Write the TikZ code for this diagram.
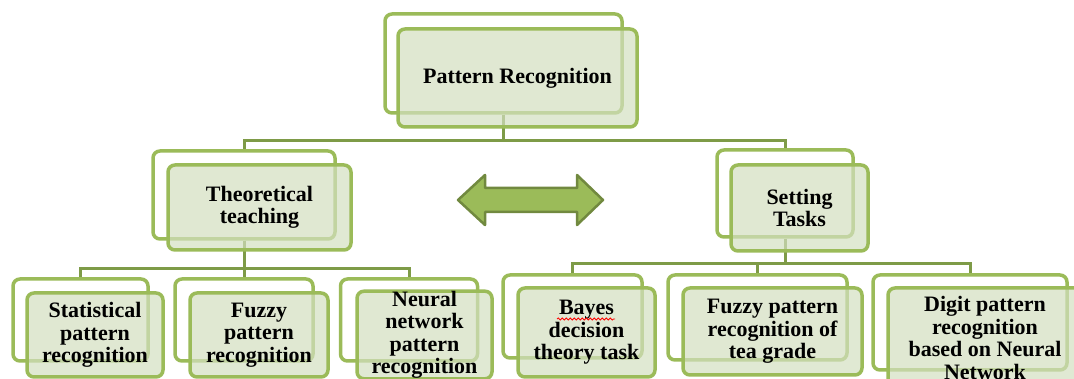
\documentclass[tikz,border=0pt]{standalone}
\usepackage{fontspec}
\setmainfont{Liberation Serif}
\usetikzlibrary{decorations.pathmorphing}
\definecolor{gborder}{HTML}{9BBB59}
\definecolor{gline}{HTML}{7E9B47}
\definecolor{gfill}{HTML}{D3DFC0}
\definecolor{garrow}{HTML}{9BBB59}
\definecolor{garrowdark}{HTML}{71893F}
\begin{document}
\begin{tikzpicture}[x=1pt,y=-1pt,
  backbox/.style={draw=gborder, line width=3.5pt, fill=white, rounded corners=7pt, inner sep=0pt},
  frontbox/.style={draw=gborder, line width=3.5pt, fill=gfill, fill opacity=0.7, text opacity=1, rounded corners=7pt, inner sep=0pt, align=center, font=\bfseries\fontsize{22}{22.5}\selectfont},
  conn/.style={draw=gline, line width=3pt},
  dblarrow/.style={fill=garrow, draw=garrowdark, line width=2.5pt, line join=round}]
\useasboundingbox (0,0) rectangle (1074,379);
\clip (0,0) rectangle (1074,379);
% back boxes
\node[backbox, minimum width=237pt, minimum height=99pt] (prB) at (503.5,63.5) {};
\node[backbox, minimum width=182pt, minimum height=88pt] (ttB) at (244,195) {};
\node[backbox, minimum width=136pt, minimum height=87pt] (stB) at (785,193.5) {};
\node[backbox, minimum width=135pt, minimum height=82pt] (s1B) at (80.5,320) {};
\node[backbox, minimum width=138pt, minimum height=82pt] (s2B) at (244,320) {};
\node[backbox, minimum width=137pt, minimum height=82pt] (s3B) at (409,320) {};
\node[backbox, minimum width=139pt, minimum height=83pt] (s4B) at (572.5,316.5) {};
\node[backbox, minimum width=179pt, minimum height=85pt] (s5B) at (757.5,317.5) {};
\node[backbox, minimum width=194pt, minimum height=95pt] (s6B) at (970,322.5) {};
% connectors
\draw[conn] (prB.south) -- ++(0,26) coordinate (bus1) -| (ttB.north);
\draw[conn] (bus1) -| (stB.north);
\draw[conn] (ttB.south) -- ++(0,28) coordinate (bus2) -| (s1B.north);
\draw[conn] (bus2) -| (s3B.north);
\draw[conn] (ttB.south) -- (s2B.north);
\draw[conn] (stB.south) -- ++(0,25) coordinate (bus3) -| (s4B.north);
\draw[conn] (bus3) -| (s5B.north);
\draw[conn] (bus3) -| (s6B.north);
% front boxes
\node[frontbox, minimum width=239pt, minimum height=98pt] (pr) at (517.5,78) {Pattern Recognition};
\node[frontbox, minimum width=183pt, minimum height=85pt] (tt) at (259.5,207.5) {Theoretical\\teaching};
\node[frontbox, minimum width=137pt, minimum height=86pt] (st) at (799.5,208) {Setting\\Tasks};
\node[frontbox, minimum width=136pt, minimum height=84pt] (s1) at (95,335) {Statistical\\pattern\\recognition};
\node[frontbox, minimum width=138pt, minimum height=84pt] (s2) at (259,335) {Fuzzy\\pattern\\recognition};
\node[frontbox, minimum width=135pt, minimum height=84pt] (s3) at (424.5,335) {Neural\\network\\pattern\\recognition};
\node[frontbox, minimum width=137pt, minimum height=89pt] (s4) at (586.5,332.5) {Bayes\\decision\\theory task};
\node[frontbox, minimum width=179pt, minimum height=87pt] (s5) at (772.5,331.5) {Fuzzy pattern\\recognition of\\tea grade};
\node[frontbox, minimum width=194pt, minimum height=100pt] (s6) at (985,338) {Digit pattern\\recognition\\based on Neural\\Network};
% spell-check underline
\draw[red, line width=0.8pt, decorate, decoration={snake, amplitude=1pt, segment length=4pt}] (557,319) -- (615,319);
% double arrow
\draw[dblarrow] (458,200) -- (485,175) -- (485,188) -- (577,188) -- (577,175) -- (603,200) -- (577,225) -- (577,212) -- (485,212) -- (485,225) -- cycle;
\end{tikzpicture}
\end{document}
